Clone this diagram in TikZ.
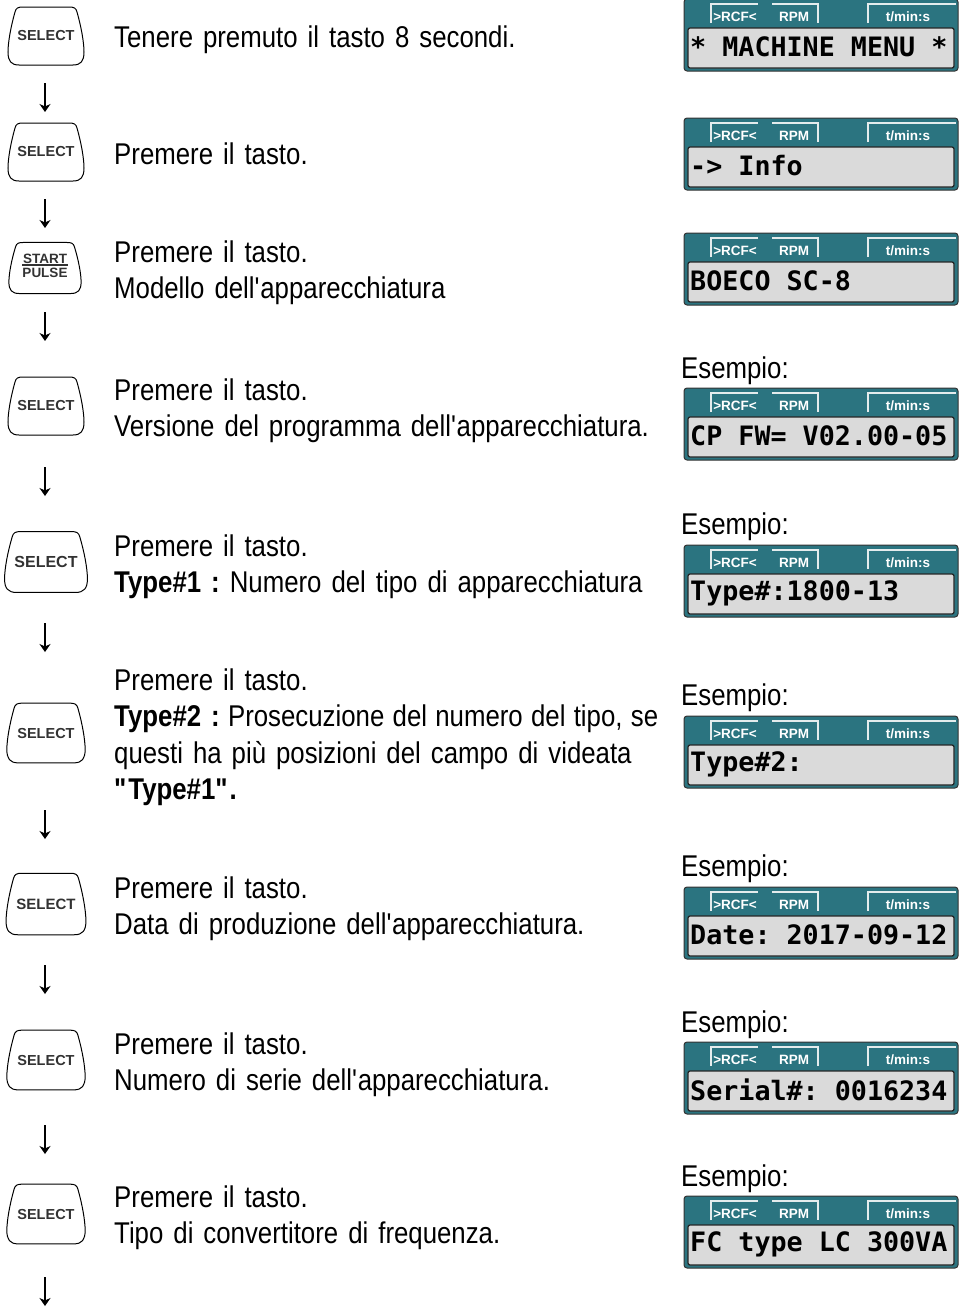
\documentclass[tikz,border=0pt]{standalone}
\usepackage{fontspec}
\setmainfont{Liberation Sans}[FakeStretch=0.86]
\newfontfamily\keyfont{Liberation Sans}
\newfontfamily\lcdfont{DejaVu Sans Mono}
\usetikzlibrary{arrows.meta,calc,positioning}
\definecolor{lcdteal}{RGB}{43,116,128}
\definecolor{lcdgrey}{RGB}{218,218,218}
\definecolor{tabline}{RGB}{228,236,237}
\definecolor{keytext}{RGB}{50,50,50}
\frenchspacing

\tikzset{
  keycap/.pic={
    \draw[line width=1pt] (-23,-29) -- (23,-29)
      .. controls (28,-29) and (30,-28) .. (31,-24)
      .. controls (35,-10) and (38,6) .. (38,16)
      .. controls (38,25) and (35,29) .. (27,29) -- (-27,29)
      .. controls (-35,29) and (-38,25) .. (-38,16)
      .. controls (-38,6) and (-35,-10) .. (-31,-24)
      .. controls (-30,-28) and (-28,-29) .. (-23,-29) -- cycle;
  },
  lcdframe/.style={fill=lcdteal,draw=black!80,line width=1pt,rounded corners=3pt},
  lcdscreen/.style={fill=lcdgrey,draw=black!85,line width=1.3pt,rounded corners=2pt},
  tabedge/.style={draw=tabline,line width=1.8pt},
  tablbl/.style={font=\keyfont\bfseries\fontsize{13.5}{13.5}\selectfont,text=white,inner sep=0pt},
  lcdtext/.style={font=\lcdfont\bfseries\fontsize{26.7}{26.7}\selectfont,anchor=west,inner sep=0pt}
}

% one display panel: name, top, text
\newcommand{\lcdpanel}[3]{%
  \begin{scope}[shift={(684,#2)}]
    \draw[lcdframe] (0,0) rectangle (274,72);
    \draw[lcdscreen] (4,29) rectangle (270,69);
    \draw[tabedge] (27,24) -- (27,5) -- (74,5);
    \draw[tabedge] (88,5) -- (134,5) -- (134,24);
    \draw[tabedge] (184,24) -- (184,5) -- (272,5);
    \node[tablbl] (#1a) at (51,18) {>RCF<};
    \node[tablbl] (#1b) at (110,18) {RPM};
    \node[tablbl] (#1c) at (224,18) {t/min:s};
    \node[lcdtext] (#1) at (6,48) {#3};
  \end{scope}}

\begin{document}
\begin{tikzpicture}[x=1pt,y=-1pt,
  keyl/.style={font=\keyfont\bfseries\fontsize{14.5}{14.5}\selectfont,text=keytext,inner sep=0pt},
  info/.style={anchor=base west,inner sep=0pt,text width=560pt,align=left,font=\fontsize{30}{36.6}\selectfont},
  esem/.style={anchor=base west,inner sep=0pt,font=\fontsize{30}{30}\selectfont},
  flow/.style={line width=1.2pt,-{Stealth[length=8pt,width=11pt,inset=2.5pt]}}]
  \useasboundingbox (0,0) rectangle (963,1309);

  % keys
  \node[keyl] (k1) at (46,36) {SELECT};
  \node[keyl] (k2) at (46,152) {SELECT};
  \node[keyl,font=\keyfont\bfseries\fontsize{13.5}{13.5}\selectfont] (k3) at (45,268)
    {\setlength{\arrayrulewidth}{1.3pt}%
     \begin{tabular}{@{}c@{}}START\\[-3.5pt]\hline\rule{0pt}{12pt}PULSE\end{tabular}};
  \node[keyl] (k4) at (46,406) {SELECT};
  \node[keyl,font=\keyfont\bfseries\fontsize{16}{16}\selectfont] (k5) at (46,562) {SELECT};
  \node[keyl] (k6) at (46,733) {SELECT};
  \node[keyl,font=\keyfont\bfseries\fontsize{15}{15}\selectfont] (k7) at (46,904) {SELECT};
  \node[keyl] (k8) at (46,1060) {SELECT};
  \node[keyl] (k9) at (46,1214) {SELECT};
  \pic at (k1) {keycap};
  \pic at (k2) {keycap};
  \pic[xscale=0.95,yscale=0.88] at (k3) {keycap};
  \pic at (k4) {keycap};
  \pic[xscale=1.09,yscale=1.05] at (k5) {keycap};
  \pic[xscale=1.03,yscale=1.03] at (k6) {keycap};
  \pic[xscale=1.05,yscale=1.06] at (k7) {keycap};
  \pic[xscale=1.03,yscale=1.03] at (k8) {keycap};
  \pic[xscale=1.03,yscale=1.03] at (k9) {keycap};

  % arrows
  \foreach \i/\y in {1/98,2/214,3/327,4/482,5/638,6/825,7/980,8/1140,9/1292}{
    \coordinate (a\i) at (45,\y-15);
    \coordinate (b\i) at (45,\y+14);
    \draw[flow] (a\i) -- (b\i);
  }

  % instructions
  \node[info] (t1) at (114,47) {Tenere premuto il tasto 8 secondi.};
  \node[info] (t2) at (114,164) {Premere il tasto.};
  \node[info] (t3) at (114,262) {Premere il tasto.\\Modello dell\textquotesingle apparecchiatura};
  \node[info] (t4) at (114,400) {Premere il tasto.\\Versione del programma dell\textquotesingle apparecchiatura.};
  \node[info] (t5) at (114,556) {Premere il tasto.\\\textbf{Type\#1 :} Numero del tipo di apparecchiatura};
  \node[info] (t6) at (114,690) {Premere il tasto.\\
    \makebox[544pt][s]{\textbf{Type\#2 :}\hfill Prosecuzione\hfill del\hfill numero\hfill del\hfill tipo,\hfill se}\\
    questi ha più posizioni del campo di videata\\\textbf{\textquotedbl Type\#1\textquotedbl.}};
  \node[info] (t7) at (114,898) {Premere il tasto.\\Data di produzione dell\textquotesingle apparecchiatura.};
  \node[info] (t8) at (114,1054) {Premere il tasto.\\Numero di serie dell\textquotesingle apparecchiatura.};
  \node[info] (t9) at (114,1207) {Premere il tasto.\\Tipo di convertitore di frequenza.};

  % displays
  \lcdpanel{d1}{-1}{* MACHINE MENU *}
  \lcdpanel{d2}{118}{-> Info}
  \lcdpanel{d3}{233}{BOECO SC-8}
  \lcdpanel{d4}{388}{CP FW= V02.00-05}
  \lcdpanel{d5}{545}{Type\#:1800-13}
  \lcdpanel{d6}{716}{Type\#2:}
  \lcdpanel{d7}{887}{Date: 2017-09-12}
  \lcdpanel{d8}{1042}{Serial\#: 0016234}
  \lcdpanel{d9}{1196}{FC type LC 300VA}

  % examples
  \node[esem] (e4) at (681,378) {Esempio:};
  \node[esem] (e5) at (681,534) {Esempio:};
  \node[esem] (e6) at (681,705) {Esempio:};
  \node[esem] (e7) at (681,876) {Esempio:};
  \node[esem] (e8) at (681,1032) {Esempio:};
  \node[esem] (e9) at (681,1186) {Esempio:};
\end{tikzpicture}
\end{document}
